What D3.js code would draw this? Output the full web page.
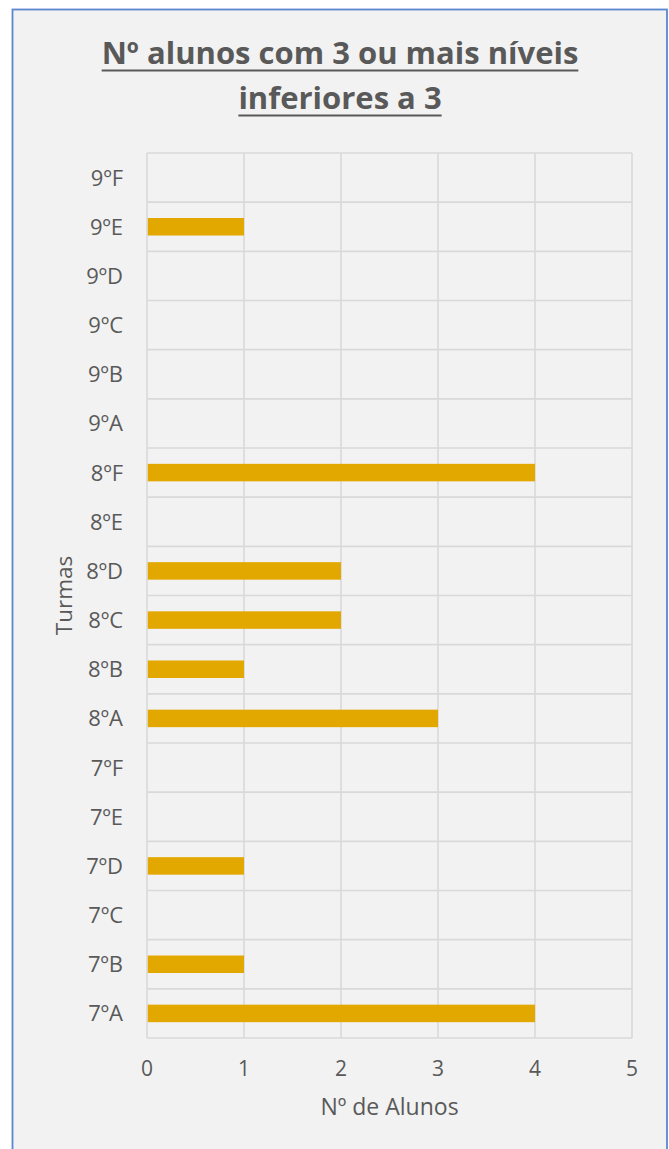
<!DOCTYPE html>
<html>
<head>
<meta charset="utf-8">
<script src="https://cdn.jsdelivr.net/npm/d3@7"></script>
<style>
  body { margin: 0; background: #ffffff; }
  svg { display: block; }
  text { font-family: "Open Sans", sans-serif; fill: #595959; }
</style>
</head>
<body>
<svg id="canvas" width="669" height="1149"></svg>
<script>
// turmas from bottom to top, as Excel draws them
let turmas = ['7ºA', '7ºB', '7ºC', '7ºD', '7ºE', '7ºF',
              '8ºA', '8ºB', '8ºC', '8ºD', '8ºE', '8ºF',
              '9ºA', '9ºB', '9ºC', '9ºD', '9ºE', '9ºF']
let alunos = [4, 1, 0, 1, 0, 0,
              3, 1, 2, 2, 0, 4,
              0, 0, 0, 0, 1, 0]
let xTicks = [0, 1, 2, 3, 4, 5]
let titleLines = ['Nº alunos com 3 ou mais níveis', 'inferiores a 3']
let xTitle = 'Nº de Alunos'
let yTitle = 'Turmas'

let canvas = d3.select('#canvas')

let plot = { left: 147, right: 632, top: 153, bottom: 1038 }

// chart area with the blue frame
canvas.append('rect')
    .attr('x', 12.5)
    .attr('y', 9.5)
    .attr('width', 654.5)
    .attr('height', 1170)
    .attr('fill', '#f2f2f2')
    .attr('stroke', '#5b86d0')
    .attr('stroke-width', 1.8)

let xScale = d3.scaleLinear()
    .domain([0, 5])
    .range([plot.left, plot.right])

let yScale = d3.scaleBand()
    .domain(turmas.slice().reverse())
    .range([plot.top, plot.bottom])
    .padding(0)

let barShare = 0.356

// gridlines
let grid = canvas.append('g').attr('stroke', '#d9d9d9').attr('stroke-width', 1.6)

grid.selectAll('.vline')
    .data(xTicks)
    .enter()
    .append('line')
    .attr('x1', (d) => xScale(d))
    .attr('x2', (d) => xScale(d))
    .attr('y1', plot.top)
    .attr('y2', plot.bottom)

let bounds = yScale.domain().map((t) => yScale(t)).concat([plot.bottom])
grid.selectAll('.hline')
    .data(bounds)
    .enter()
    .append('line')
    .attr('x1', plot.left)
    .attr('x2', plot.right)
    .attr('y1', (d) => d)
    .attr('y2', (d) => d)

// bars
canvas.append('g')
    .selectAll('rect')
    .data(turmas.map((t, i) => ({ turma: t, value: alunos[i] })))
    .enter()
    .append('rect')
    .attr('x', xScale(0) + 0.8)
    .attr('y', (d) => yScale(d.turma) + yScale.bandwidth() * (1 - barShare) / 2)
    .attr('width', (d) => Math.max(0, xScale(d.value) - xScale(0) - 0.8))
    .attr('height', yScale.bandwidth() * barShare)
    .attr('fill', '#e3a800')

// category labels
canvas.append('g')
    .selectAll('text')
    .data(turmas)
    .enter()
    .append('text')
    .attr('x', 123)
    .attr('y', (t) => yScale(t) + yScale.bandwidth() / 2)
    .attr('dy', '0.36em')
    .attr('text-anchor', 'end')
    .attr('font-size', 22)
    .text((t) => t)

// value axis labels
canvas.append('g')
    .selectAll('text')
    .data(xTicks)
    .enter()
    .append('text')
    .attr('x', (d) => xScale(d))
    .attr('y', 1076)
    .attr('text-anchor', 'middle')
    .attr('font-size', 21)
    .text((d) => d)

// axis titles
canvas.append('text')
    .attr('x', (plot.left + plot.right) / 2)
    .attr('y', 1115)
    .attr('text-anchor', 'middle')
    .attr('font-size', 23)
    .text(xTitle)

canvas.append('text')
    .attr('transform', 'translate(72,' + ((plot.top + plot.bottom) / 2) + ') rotate(-90)')
    .attr('text-anchor', 'middle')
    .attr('font-size', 22.5)
    .text(yTitle)

// title, underlined
let title = canvas.append('g')
titleLines.forEach((line, i) => {
    let baseline = 64 + i * 45
    let txt = title.append('text')
        .attr('x', 340)
        .attr('y', baseline)
        .attr('text-anchor', 'middle')
        .attr('font-size', 31)
        .attr('font-weight', 'bold')
        .text(line)
    let w = txt.node().getComputedTextLength()
    title.append('line')
        .attr('x1', 340 - w / 2)
        .attr('x2', 340 + w / 2)
        .attr('y1', baseline + 6.5)
        .attr('y2', baseline + 6.5)
        .attr('stroke', '#595959')
        .attr('stroke-width', 2)
})
</script>
</body>
</html>
